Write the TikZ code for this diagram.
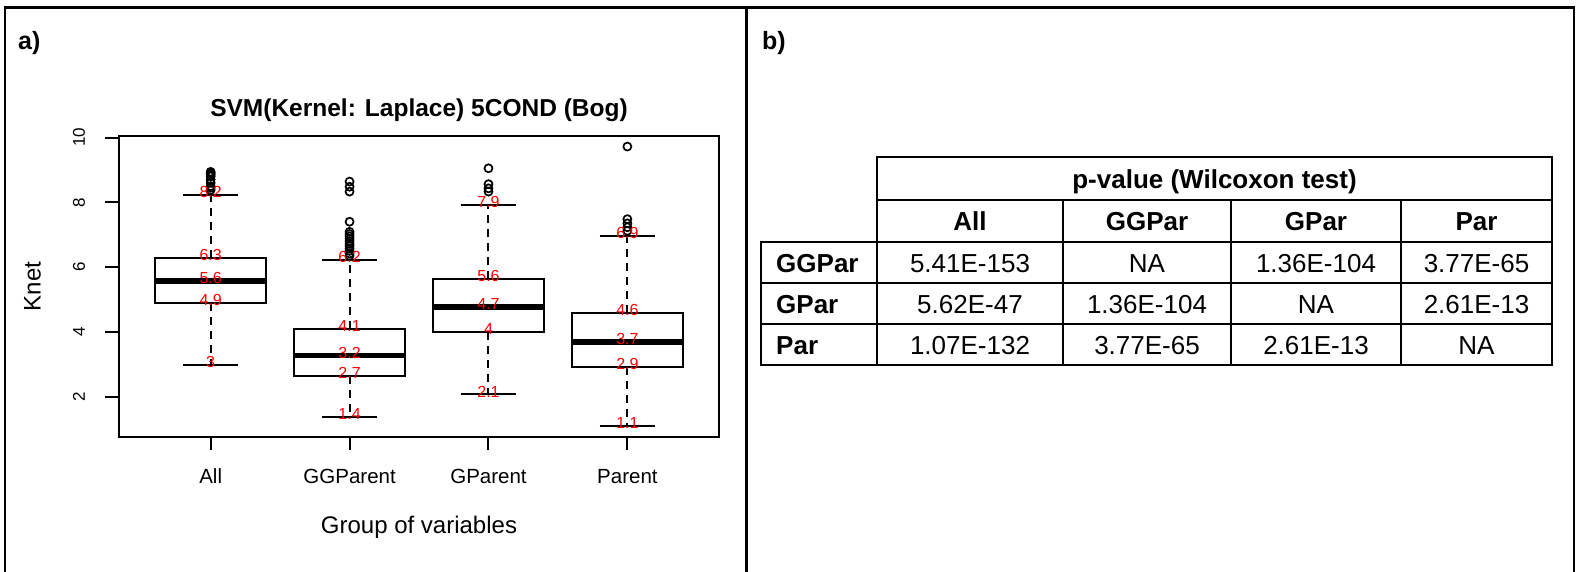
\documentclass[tikz,border=0pt]{standalone}
\usepackage{fontspec}
\setmainfont{Liberation Sans}
\begin{document}
\begin{tikzpicture}[x=1pt,y=-1pt,
  frame/.style={line width=2.5pt},
  panellab/.style={font={\fontsize{25}{30}\selectfont\bfseries},inner sep=0pt,anchor=base west},
  plottitle/.style={font={\fontsize{24.5}{30}\selectfont\bfseries},inner sep=0pt,anchor=base},
  axisline/.style={line width=2pt},
  ytl/.style={font={\fontsize{17}{19}\selectfont},inner sep=0pt,rotate=90},
  xtl/.style={font={\fontsize{20.5}{24}\selectfont},inner sep=0pt,anchor=base},
  axtitle/.style={font={\fontsize{24}{28}\selectfont},inner sep=0pt},
  whisk/.style={line width=2pt,dash pattern=on 8pt off 6pt},
  capline/.style={line width=2pt},
  boxline/.style={line width=2pt},
  medline/.style={line width=5.8pt},
  outl/.style={line width=1.7pt},
  val/.style={font={\fontsize{16}{18}\selectfont},text=red,inner sep=0pt,yshift=3pt},
  tline/.style={line width=2pt,line cap=rect},
  tcell/.style={font={\fontsize{26}{30}\selectfont},inner sep=0pt,anchor=base},
  thead/.style={tcell,font={\fontsize{26}{30}\selectfont\bfseries}},
  rowlab/.style={thead,anchor=base west}]
\useasboundingbox (0,0) rectangle (1580,571);
\fill[white] (0,0) rectangle (1580,571);

% outer frame and divider between the two panels
\draw[frame] (5,575) -- (5,7.5) -- (1574,7.5) -- (1574,575);
\draw[frame] (746.5,7.5) -- (746.5,575);

\node[panellab] (la) at (18,49) {a)};
\node[panellab] (lb) at (762,49) {b)};

% ---------- panel a: box plot ----------
\node[plottitle] (ttl) at (419,116) {SVM(Kernel: Laplace) 5COND (Bog)};

\newcommand\boxwhisk[6]{%
  \draw[whisk] (#1,#5) -- (#1,#6);
  \draw[whisk] (#1,#3) -- (#1,#2);
  \draw[capline] (#1-0.2,#6) -- (#1+0.2,#6);
  \draw[capline] (#1-0.2,#2) -- (#1+0.2,#2);
  \draw[boxline] (#1-0.4,#3) rectangle (#1+0.4,#5);
  \draw[medline] (#1-0.4,#4) -- (#1+0.4,#4);
}

\begin{scope}[shift={(71.77,461.5)}, x=138.9pt, y=32.4pt]
  \draw[axisline] (0.34,0.756) rectangle (4.66,10.04);
  \foreach \v in {2,4,6,8,10}
    \draw[axisline] (0.34,\v) -- ++(-14pt,0);
  \foreach \u in {1,2,3,4}
    \draw[axisline] (\u,0.756) -- ++(0,-13pt);

  % All
  \boxwhisk{1}{2.98}{4.89}{5.58}{6.28}{8.235}
  \foreach \o in {8.38,8.45,8.5,8.6,8.7,8.8,8.85,8.9,8.94}
    \draw[outl] (1,\o) circle[radius=4pt];
  % GGParent
  \boxwhisk{2}{1.36}{2.65}{3.27}{4.09}{6.22}
  \foreach \o in {6.35,6.42,6.5,6.57,6.65,6.72,6.8,6.88,6.95,7.02,7.09,7.40,8.33,8.48,8.64}
    \draw[outl] (2,\o) circle[radius=4pt];
  % GParent
  \boxwhisk{3}{2.07}{4.01}{4.76}{5.62}{7.93}
  \foreach \o in {8.33,8.43,8.56,9.05}
    \draw[outl] (3,\o) circle[radius=4pt];
  % Parent
  \boxwhisk{4}{1.10}{2.93}{3.70}{4.59}{6.95}
  \foreach \o in {7.12,7.23,7.35,7.48,9.72}
    \draw[outl] (4,\o) circle[radius=4pt];

  % summary values written on the boxes
  \node[val] (a1) at (1,8.235) {8.2};
  \node[val] (a2) at (1,6.28) {6.3};
  \node[val] (a3) at (1,5.58) {5.6};
  \node[val] (a4) at (1,4.89) {4.9};
  \node[val] (a5) at (1,2.98) {3};
  \node[val] (b1) at (2,6.22) {6.2};
  \node[val] (b2) at (2,4.09) {4.1};
  \node[val] (b3) at (2,3.27) {3.2};
  \node[val] (b4) at (2,2.65) {2.7};
  \node[val] (b5) at (2,1.36) {1.4};
  \node[val] (c1) at (3,7.93) {7.9};
  \node[val] (c2) at (3,5.62) {5.6};
  \node[val] (c3) at (3,4.76) {4.7};
  \node[val] (c4) at (3,4.01) {4};
  \node[val] (c5) at (3,2.07) {2.1};
  \node[val] (d1) at (4,6.95) {6.9};
  \node[val] (d2) at (4,4.59) {4.6};
  \node[val] (d3) at (4,3.70) {3.7};
  \node[val] (d4) at (4,2.93) {2.9};
  \node[val] (d5) at (4,1.10) {1.1};
\end{scope}

% axis tick labels and titles
\node[ytl] (y2) at (79,396.7) {2};
\node[ytl] (y4) at (79,331.9) {4};
\node[ytl] (y6) at (79,267.1) {6};
\node[ytl] (y8) at (79,202.3) {8};
\node[ytl] (y10) at (79,137.5) {10};
\node[xtl] (x1) at (210.7,483) {All};
\node[xtl] (x2) at (349.6,483) {GGParent};
\node[xtl] (x3) at (488.5,483) {GParent};
\node[xtl] (x4) at (627.4,483) {Parent};
\node[axtitle,anchor=base] (xlab) at (419,533) {Group of variables};
\node[axtitle,rotate=90] (ylab) at (32.5,286.5) {Knet};

% ---------- panel b: p-value table ----------
\draw[tline] (877,365) -- (877,157) -- (1552,157) -- (1552,365) -- (761,365) -- (761,242) -- (1552,242);
\draw[tline] (877,200) -- (1552,200);
\draw[tline] (761,283) -- (1552,283);
\draw[tline] (761,324) -- (1552,324);
\draw[tline] (1063,200) -- (1063,365);
\draw[tline] (1231,200) -- (1231,365);
\draw[tline] (1401,200) -- (1401,365);

\node[thead] (h0) at (1214.5,188) {p-value (Wilcoxon test)};
\node[thead] (h1) at (970,230.5) {All};
\node[thead] (h2) at (1147,230.5) {GGPar};
\node[thead] (h3) at (1316,230.5) {GPar};
\node[thead] (h4) at (1476.5,230.5) {Par};

\node[rowlab] (r1) at (776,272) {GGPar};
\node[rowlab] (r2) at (776,313) {GPar};
\node[rowlab] (r3) at (776,354) {Par};

\node[tcell] (c11) at (970,272) {5.41E-153};
\node[tcell] (c12) at (1147,272) {NA};
\node[tcell] (c13) at (1316,272) {1.36E-104};
\node[tcell] (c14) at (1476.5,272) {3.77E-65};
\node[tcell] (c21) at (970,313) {5.62E-47};
\node[tcell] (c22) at (1147,313) {1.36E-104};
\node[tcell] (c23) at (1316,313) {NA};
\node[tcell] (c24) at (1476.5,313) {2.61E-13};
\node[tcell] (c31) at (970,354) {1.07E-132};
\node[tcell] (c32) at (1147,354) {3.77E-65};
\node[tcell] (c33) at (1316,354) {2.61E-13};
\node[tcell] (c34) at (1476.5,354) {NA};
\end{tikzpicture}
\end{document}
